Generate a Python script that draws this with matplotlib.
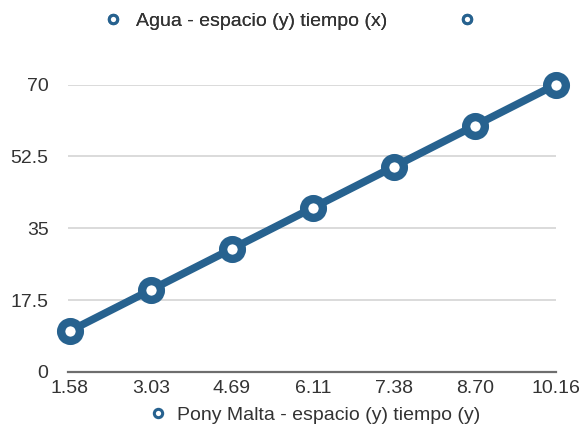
import numpy as np
import matplotlib
matplotlib.use('Agg')
import matplotlib.pyplot as plt
from matplotlib.lines import Line2D

plt.rcParams.update({
    'font.family': ['Liberation Sans', 'DejaVu Sans'],
    'font.size': 14,
    'text.color': '#333333',
})

tiempo_labels = ["1.58", "3.03", "4.69", "6.11", "7.38", "8.70", "10.16"]
espacio = [10, 20, 30, 40, 50, 60, 70]
y_ticks = [0, 17.5, 35, 52.5, 70]
y_tick_labels = ["0", "17.5", "35", "52.5", "70"]

blue = '#27628f'

fig = plt.figure(figsize=(5.88, 4.29), dpi=100)
# axes box in pixels: left 68, right 556, y=0 at 372, y=70 at 84.5
ax = fig.add_axes([68 / 588, 57 / 429, 488 / 588, 287.5 / 429])

x = np.arange(len(tiempo_labels))
ax.plot(x, espacio, color=blue, lw=5.5, marker='o', ms=13.5,
        mfc='white', mec=blue, mew=6, clip_on=False, zorder=5)

ax.set_xlim(-0.0245, 5.951)
ax.set_ylim(0, 70)
ax.set_xticks(x)
ax.set_xticklabels(tiempo_labels)
ax.set_yticks(y_ticks)
ax.set_yticklabels(y_tick_labels)
ax.tick_params(length=0, labelsize=14, colors='#333333')
ax.tick_params(axis='y', pad=14)
ax.tick_params(axis='x', pad=6)

for v in y_ticks[1:]:
    ax.axhline(v, color='#d4d4d4', lw=1.2, zorder=1)
for s in ['top', 'right', 'left']:
    ax.spines[s].set_visible(False)
ax.spines['bottom'].set_color('#6e6e6e')
ax.spines['bottom'].set_linewidth(1.6)

def key():
    return Line2D([], [], ls='none', marker='o', ms=6, mfc='white',
                  mec=blue, mew=2.2)

top = fig.legend([key(), key()], ["Agua - espacio (y) tiempo (x)", ""],
                 loc='center left', bbox_to_anchor=(103.3 / 588, 1 - 21 / 429),
                 ncol=2, frameon=False, fontsize=14, handlelength=1.0,
                 handletextpad=0.67, columnspacing=3.6, borderpad=0,
                 borderaxespad=0)
bottom = fig.legend([key()], ["Pony Malta - espacio (y) tiempo (y)"],
                    loc='center left', bbox_to_anchor=(148.3 / 588, 1 - 415 / 429),
                    frameon=False, fontsize=14, handlelength=1.0,
                    handletextpad=0.5, borderpad=0, borderaxespad=0)
fig.add_artist(top)

fig.savefig('out.png', dpi=100, facecolor='white')
